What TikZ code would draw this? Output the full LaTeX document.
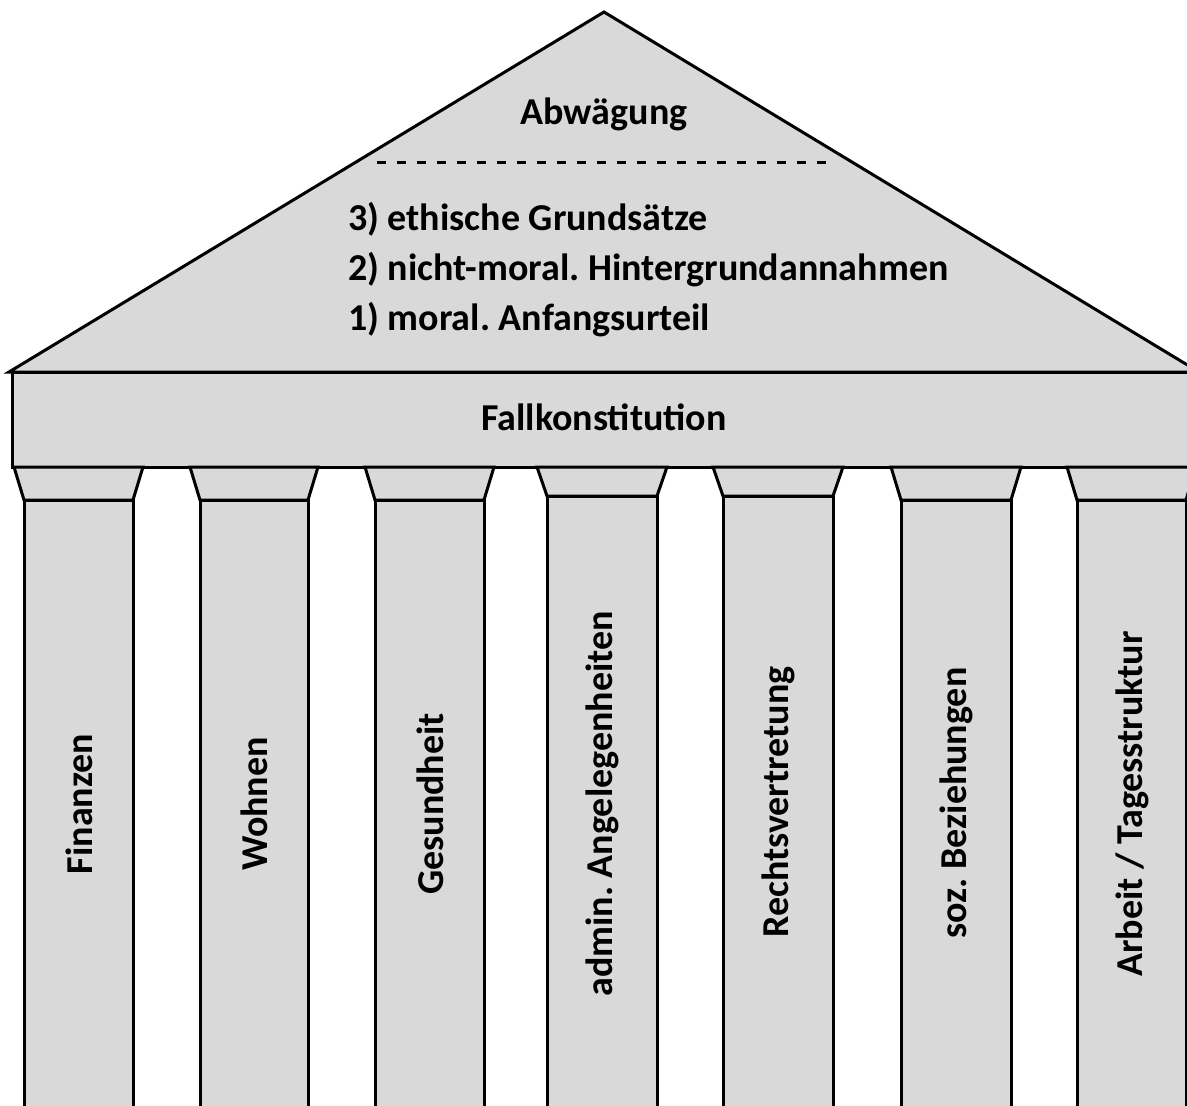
\documentclass[tikz,border=0pt]{standalone}
\usepackage{fontspec}
\setmainfont{Carlito}
\frenchspacing
\begin{document}
\begin{tikzpicture}[x=1pt,y=-1pt,
  part/.style={fill=partgray,draw=black,line width=3pt,line join=miter},
  lbl/.style={font=\fontsize{38}{45}\selectfont\bfseries,inner sep=0pt},
  collbl/.style={lbl,rotate=90,anchor=center}]
\definecolor{partgray}{RGB}{217,217,217}
\useasboundingbox (0,0) rectangle (1187,1106);
\begin{scope}
\clip (0,0) rectangle (1187,1106);
% roof
\path[part] (9,372) coordinate (roofL) -- (604,12) coordinate (apex) -- (1199,372) coordinate (roofR) -- cycle;
% beam
\path[part] (12,372) rectangle (1200,467);
% columns
\foreach \a/\b/\cb in {24/133/500, 200/308/500, 375/484/500, 547/657/496, 723/833/496, 901/1011/500, 1077/1186/500}{
  \path[part] (\a-10,467) -- (\b+10,467) -- (\b,\cb) -- (\a,\cb) -- cycle;
  \path[part] (\a,\cb) rectangle (\b,1120);
}
\end{scope}
% dashed divider
\coordinate (dashL) at (377,162);
\coordinate (dashR) at (832,162);
\draw[line width=3pt,dash pattern=on 9pt off 11pt] (dashL) -- (dashR);
% roof texts
\node[lbl,anchor=base] (abw) at (604,124) {Abwägung};
\node[lbl,anchor=base west] (t3) at (348,230) {3) ethische Grundsätze};
\node[lbl,anchor=base west] (t2) at (348,280) {2) nicht-moral. Hintergrundannahmen};
\node[lbl,anchor=base west] (t1) at (348,330) {1) moral. Anfangsurteil};
\node[lbl,anchor=base] (fall) at (604,430) {Fallkonstitution};
% column labels
\node[collbl] (c1) at (79,804) {Finanzen};
\node[collbl] (c2) at (254,804) {Wohnen};
\node[collbl] (c3) at (430,804) {Gesundheit};
\node[collbl] (c4) at (602,804) {admin. Angelegenheiten};
\node[collbl] (c5) at (778,802) {Rechtsvertretung};
\node[collbl] (c6) at (956,803) {soz. Beziehungen};
\node[collbl] (c7) at (1132,804) {Arbeit / Tagesstruktur};
\end{tikzpicture}
\end{document}
